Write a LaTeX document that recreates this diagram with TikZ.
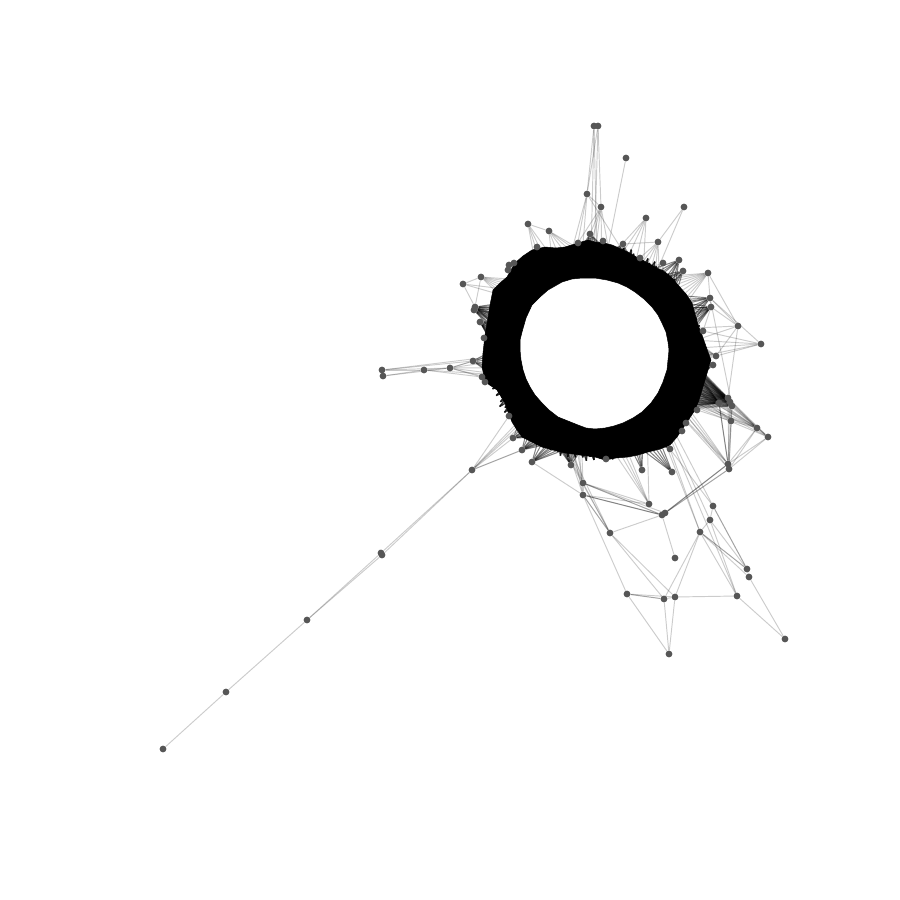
\documentclass[tikz,border=0pt]{standalone}
\pgfdeclarelayer{edgelayer}
\pgfdeclarelayer{ringlayer}
\pgfsetlayers{edgelayer,ringlayer,main}
\definecolor{nodegrey}{HTML}{565656}
\tikzset{
  netnode/.style={circle,fill=nodegrey,draw=none,inner sep=0pt,minimum size=6.8pt},
  netedge/.style={draw=black,opacity=0.2,line width=0.95pt},
  spikeedge/.style={draw=black,opacity=0.8,line width=1.4pt},
  ringfill/.style={fill=black,draw=black,line width=0.5pt,even odd rule,line join=round}
}
\newcommand{\fan}[2]{\foreach \a in {#2}{\draw[netedge] (#1) -- (ang\a);}}
\newcommand{\dfan}[2]{\foreach \a in {#2}{\draw[netedge] (#1) -- (ang\a);\draw[netedge] (#1) -- (ang\a);\draw[netedge] (#1) -- (ang\a);}}
\begin{document}
\begin{tikzpicture}[x=1pt,y=-1pt]
\useasboundingbox (0,0) rectangle (900,900);
% ring anchors (invisible)
\foreach \a in {0,...,410}{\coordinate (ang\a) at ([shift={(594,352)}]\a:90);}
% nodes
\foreach \n/\x/\y in {
t1/594/126,t2/598/126,t3/626/158,t4/587/194,t5/601/207,t6/646/218,t7/684/207,t8/528/224,t9/549/231,t10/658/242,
t11/590/234,t12/603/241,t13/623/244,t14/537/247,t15/679/260,t16/683/271,t17/708/273,t18/710/298,t19/663/263,
t20/509/265,t30/514/263,t21/508/270,t22/481/277,t23/463/284,t24/475/307,t25/474/310,t26/640/258,t27/578/243,
u1/711/307,u2/703/331,r1/738/326,r2/761/344,r3/716/356,u3/713/365,u4/719/403,u5/728/398,u6/730/402,u7/732/406,
r4/731/421,r5/757/428,r6/768/437,r7/728/464,r8/729/469,u8/697/410,u9/686/423,u10/682/431,
b1/672/472,b2/642/470,b3/670/449,b4/606/459,b5/583/483,b6/583/495,b7/649/504,b8/662/515,b9/665/513,b10/610/533,
b11/713/506,b12/710/520,b13/700/532,b14/675/558,b15/747/569,b16/749/577,b17/627/594,b18/664/599,b19/675/597,
b20/737/596,b21/785/639,b22/669/654,
l1/382/370,l2/383/376,l3/424/370,l4/450/368,l5/473/361,l6/482/377,l7/485/382,
m1/472/470,m2/381/553,m3/382/555,m4/307/620,m5/226/692,m6/163/749,m7/513/438,m8/522/450,m9/532/462,m10/509/416,
v1/480/322,v2/484/338,v3/571/465%
}{\node[netnode] (\n) at (\x,\y) {};}
\begin{pgfonlayer}{ringlayer}
\path[ringfill]
 (483,353)--(485,335)--(488,318)--(490,305)--(493,290)--(500,283)--(507,277)--(515,263)--(523,256)--(532,250)--(545,247)--(556,248)--(565,247)--(578,243)--(588,240)--(595,242)--(604,243)--(612,245)--(628,252)--(638,258)--(648,263)--(657,268)--(665,272)--(672,278)--(678,285)--(686,294)--(692,303)--(695,314)--(698,325)--(702,335)--(708,352)--(711,360)--(708,370)--(705,380)--(702,390)--(699,400)--(695,410)--(689,419)--(683,428)--(677,437)--(670,445)--(660,449)--(648,452)--(638,455)--(628,457)--(616,458)--(605,460)--(595,457)--(580,455)--(565,453)--(553,450)--(542,447)--(532,442)--(522,437)--(517,430)--(512,422)--(508,412)--(505,403)--(497,390)--(490,385)--(485,380)--(482,367)--cycle
 (520,350)--(520,340)--(522,332)--(526,318)--(532,305)--(540,297)--(548,290)--(562,282)--(572,279)--(582,278)--(595,278)--(607,280)--(618,283)--(627,287)--(635,292)--(644,299)--(652,307)--(658,315)--(662,323)--(666,332)--(668,342)--(669,350)--(668,360)--(667,370)--(663,382)--(658,393)--(651,403)--(642,412)--(633,418)--(623,423)--(614,426)--(605,428)--(595,429)--(586,428)--(578,425)--(568,421)--(558,417)--(549,410)--(542,403)--(535,395)--(530,387)--(526,379)--(523,370)--(521,360)--cycle;
\end{pgfonlayer}
\begin{pgfonlayer}{edgelayer}
% fringe of the dense ring: short dark edges
\foreach \a in {0,2,...,358}{
  \pgfmathtruncatemacro{\rr}{103+mod(\a*37,7)}
  \pgfmathtruncatemacro{\bb}{\a+5}
  \coordinate (s\a) at ([shift={(594,352)}]\a:\rr);
  \draw[spikeedge] (s\a) -- (ang\a);
  \draw[spikeedge] (s\a) -- (ang\bb);
}
% top fans
\fan{t1}{268,272}\fan{t2}{270}\fan{t3}{277}\fan{t4}{253,257,262,298}\fan{t5}{249,260,265,270,275,281}
\fan{t6}{277,283,289,296,303}\fan{t7}{310}\fan{t10}{292,297,302,307,312,317}
\fan{t8}{232,237,242,248}\fan{t9}{243,250,257,263,269,275}
\dfan{t11}{255,260,265,270,275,280,285,290,262,268}\dfan{t12}{262,268,274,280,286,292,271,277}
\dfan{t13}{268,275,280,285,290,295,300,278,288}\fan{t14}{235,240,245,250,242,248}
\dfan{t15}{300,305,310,315,320,325,330,308,318}\dfan{t16}{305,310,315,320,325,330,312,322}
\fan{t17}{305,309,313,317,321,325,329,333,337}\dfan{t18}{320,325,330,335,340,345,350,328,338}
\dfan{u1}{325,330,335,340,345,350,355,332,342,338,348,352}\fan{u2}{340,345,350,355,360,365}
\fan{t19}{298,304,310,316,322}\fan{t26}{285,290,295,300,305}\fan{t20}{225,230,235,240,245}\fan{t30}{228,235,242,248}\fan{t21}{220,226,232,238}
\fan{t22}{208,212,216,220,224,228,232}\fan{t23}{215,222}
\dfan{t24}{190,195,200,205,210,215,192,198,202,208,212}\dfan{t25}{185,190,195,200,205,210,188,193,197,203}
\dfan{v1}{170,175,180,185,190,195,200,178,183,188,193,198,172}\dfan{v2}{165,170,175,180,185,190,195,173,178,183,188}
% right fans
\fan{r1}{345,355}\fan{r2}{352,358,365}\fan{r3}{345,350,355,360,5,10,348,352,358}
\foreach \q in {u3,u4,u5,u6,u7}{\fan{\q}{365,368,371,374,377,380,383,386,389,392,395,398,401}}
\foreach \q in {u4,u5,u6,u7}{\fan{\q}{360,362,364,366,0,2,4,6,8,10,12,14,16,18,20,22,24,26,28,30}}
\fan{u4}{32,34,36,38,40,33,35,37,39,31}
\fan{u5}{5,15,25,35,11,21}\fan{u7}{32,35,38,40}
\dfan{u8}{15,20,25,30,35,40,18,23,28}\dfan{u9}{30,35,40,45,50,33,38}\dfan{u10}{35,40,45,50,55}
\fan{r4}{15,20,26,33}\fan{r5}{10,15,20,25,30,18,28}\fan{r6}{18,25,30}
\fan{r7}{25,28,31,34}\fan{r8}{30,34}
% bottom fans
\dfan{b1}{50,54,58,62,66,70}\dfan{b2}{57,60,63,66,70}\dfan{b3}{45,50,55,60,65,52,58}
\dfan{b4}{80,85,90,95,100,105,87,93}\fan{b5}{98,102,106,110,114}\fan{b6}{100,105,110}
\fan{b7}{54,72,75,78,82}\dfan{v3}{95,100,105,110,115,120,125,103,108,113,118}
\fan{b10}{110,116}\fan{b11}{40}\fan{b12}{42}\fan{b13}{47}\fan{b20}{43}
% left fans
\fan{l4}{160,165,170,175,180}\dfan{l5}{155,160,165,170,175,180,185}\dfan{l6}{150,155,160,165,170}\dfan{l7}{145,150,155,160,165,148,153}\fan{l3}{165}\fan{l1}{178}
\dfan{m7}{110,115,120,125,130,135,140,118,128}\dfan{m8}{105,110,115,120,125,130,135,113,118,123}\dfan{m9}{95,100,105,110,115,120,125,108,113}
\fan{m1}{134,136,138}\fan{m10}{125,130,135,140,145}
% node to node
\foreach \p/\q in {
t1/t4,t2/t4,t2/t5,t4/t5,t7/t10,t8/t9,t13/t10,t23/t22,t23/t24,t22/t24,
t17/r1,t18/r1,u1/r1,r1/r3,r1/u5,r2/u2,r2/t18,r2/r3,t17/t18,t18/u1,t18/u7,u2/u1,
u5/r5,u6/r5,u7/r5,u4/r5,u5/r6,u7/r6,u6/r6,r5/r6,r4/u6,r4/u7,r4/r7,r4/r8,r4/r5,
u4/r7,u4/r7,u4/r8,u6/r7,u7/r8,r7/r5,r7/r6,r8/r5,r8/r6,r7/r8,r8/u5,
b9/r7,b9/r7,b8/r8,b9/r8,b8/r7,b8/b9,b8/b9,b8/b9,
b8/b5,b8/b5,b8/b6,b8/b6,b8/b6,b9/b5,b5/b6,b8/b14,b10/b8,b10/b18,b10/b19,b10/b5,b10/b6,b10/b6,
b6/b17,b17/b18,b17/b18,b17/b19,b17/b22,b18/b19,b18/b22,b19/b22,b19/b20,b20/b21,b21/b16,b16/b15,
b15/b11,b15/b11,b15/b12,b15/b13,b15/b13,b16/b13,b13/b20,b13/b12,b13/b18,b13/b19,b12/b11,b12/b20,
b13/b3,b11/b3,b7/b5,b7/b6,b6/m9,
l1/l5,l1/l3,l2/l3,l2/l4,l1/l4,l3/l4,l3/l6,l4/l5,l4/l6,
m1/m2,m1/m3,m2/m4,m3/m4,m2/m3,m4/m5,m5/m6,m1/m7,m1/m8,m1/m8,m1/m10%
}{\draw[netedge] (\p) -- (\q);}
\end{pgfonlayer}
\end{tikzpicture}
\end{document}
